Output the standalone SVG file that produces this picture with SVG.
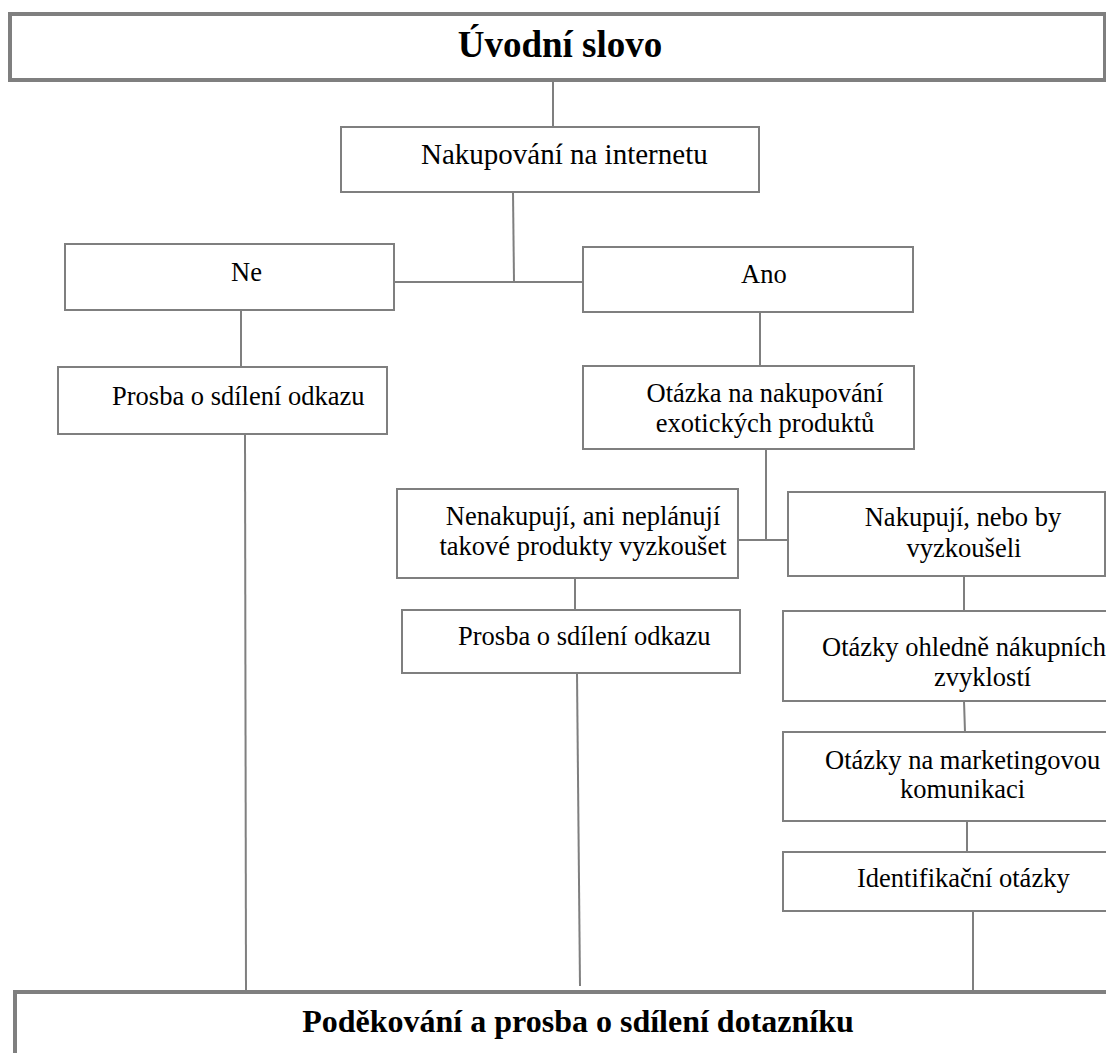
<svg xmlns="http://www.w3.org/2000/svg" width="1106" height="1053" viewBox="0 0 1106 1053">
<style>
.box{fill:#fff;stroke:#7f7f7f;stroke-width:2}
.big{fill:#fff;stroke:#7f7f7f;stroke-width:4}
.t{font-family:"Liberation Serif","Times New Roman",serif;font-size:26.5px;fill:#000}
.h{font-family:"Liberation Serif","Times New Roman",serif;font-weight:bold;fill:#000}
.c{fill:none;stroke:#7f7f7f;stroke-width:2}
</style>
<rect width="1106" height="1053" fill="#fff"/>
<g id="connectors">
<line class="c" x1="553" y1="82" x2="553" y2="127"/>
<line class="c" x1="513" y1="192" x2="514" y2="282"/>
<line class="c" x1="394" y1="282" x2="583" y2="282"/>
<line class="c" x1="241" y1="310" x2="241" y2="367"/>
<line class="c" x1="760" y1="312" x2="760" y2="366"/>
<line class="c" x1="245" y1="434" x2="246" y2="992"/>
<line class="c" x1="766" y1="449" x2="766" y2="540"/>
<line class="c" x1="738" y1="540" x2="788" y2="540"/>
<line class="c" x1="575" y1="578" x2="575" y2="610"/>
<line class="c" x1="964" y1="576" x2="964" y2="611"/>
<line class="c" x1="577" y1="673" x2="580" y2="986"/>
<line class="c" x1="964" y1="701" x2="965" y2="732"/>
<line class="c" x1="967" y1="821" x2="967" y2="852"/>
<line class="c" x1="973" y1="911" x2="973" y2="992"/>
</g>
<g id="uvod">
<rect class="big" x="10" y="14" width="1095" height="66"/>
<text class="h" x="560" y="57" font-size="37" text-anchor="middle">Úvodní slovo</text>
</g>
<g id="nakupovani">
<rect class="box" x="341" y="127" width="418" height="65"/>
<text class="t" x="421" y="164" style="font-size:29px">Nakupování na internetu</text>
</g>
<g id="ne">
<rect class="box" x="65" y="244" width="329" height="66"/>
<text class="t" x="231" y="281">Ne</text>
</g>
<g id="ano">
<rect class="box" x="583" y="247" width="330" height="65"/>
<text class="t" x="741" y="283">Ano</text>
</g>
<g id="prosba1">
<rect class="box" x="58" y="367" width="329" height="67"/>
<text class="t" x="112" y="405">Prosba o sdílení odkazu</text>
</g>
<g id="otazka">
<rect class="box" x="583" y="366" width="331" height="83"/>
<text class="t" x="765" y="402" text-anchor="middle">Otázka na nakupování</text>
<text class="t" x="765" y="432" text-anchor="middle">exotických produktů</text>
</g>
<g id="nenakupuji">
<rect class="box" x="397" y="489" width="341" height="89"/>
<text class="t" x="583" y="525" text-anchor="middle">Nenakupují, ani neplánují</text>
<text class="t" x="583" y="555" text-anchor="middle">takové produkty vyzkoušet</text>
</g>
<g id="nakupuji">
<rect class="box" x="788" y="492" width="317" height="84"/>
<text class="t" x="963" y="526" text-anchor="middle">Nakupují, nebo by</text>
<text class="t" x="964" y="557" text-anchor="middle">vyzkoušeli</text>
</g>
<g id="prosba2">
<rect class="box" x="402" y="610" width="338" height="63"/>
<text class="t" x="458" y="645">Prosba o sdílení odkazu</text>
</g>
<g id="zvyklosti">
<rect class="box" x="783" y="611" width="330" height="90"/>
<text class="t" x="822" y="656">Otázky ohledně nákupních</text>
<text class="t" x="934" y="686">zvyklostí</text>
</g>
<g id="marketing">
<rect class="box" x="783" y="732" width="330" height="89"/>
<text class="t" x="825" y="769">Otázky na marketingovou</text>
<text class="t" x="900" y="798">komunikaci</text>
</g>
<g id="identifikacni">
<rect class="box" x="783" y="852" width="330" height="59"/>
<text class="t" x="857" y="887">Identifikační otázky</text>
</g>
<g id="podekovani">
<rect class="big" x="15" y="992" width="1100" height="100"/>
<text class="h" x="578" y="1032" font-size="32" text-anchor="middle">Poděkování a prosba o sdílení dotazníku</text>
</g>
</svg>
